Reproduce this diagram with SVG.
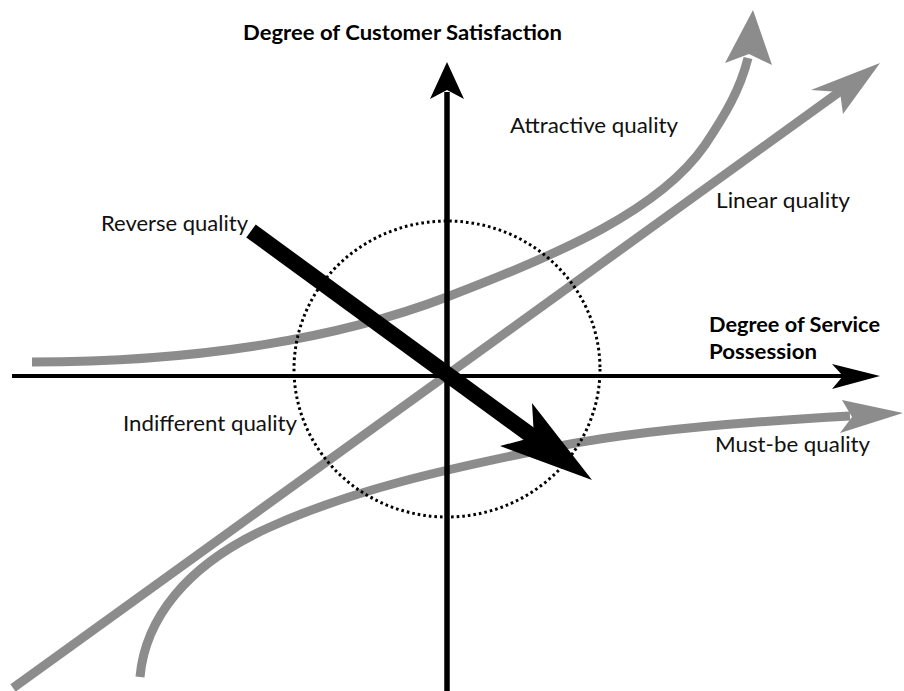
<svg xmlns="http://www.w3.org/2000/svg" width="904" height="691" viewBox="0 0 904 691">
  <style>
    .curve { fill: none; stroke: #8c8c8c; stroke-width: 9; stroke-linecap: butt; }
    .head-gray { fill: #8c8c8c; }
    .axis { fill: none; stroke: #000; }
    .head-black { fill: #000; }
    .label { font-family: Lato, "Open Sans", "Liberation Sans", sans-serif; font-size: 20.5px; fill: #111; }
    .title { font-family: Lato, "Open Sans", "Liberation Sans", sans-serif; font-size: 21px; font-weight: bold; fill: #000; }
  </style>
  <rect width="904" height="691" fill="#fff"/>

  <g id="connectors">
    <!-- Kano quality curves (gray) -->
    <g id="curve-linear">
      <path class="curve" d="M13,688 L842,90"/>
      <polygon class="head-gray" points="880,63 843,114 840,92 811,90"/>
    </g>
    <g id="curve-attractive">
      <path class="curve" d="M32,362 C200,362 340,338 447,297 C560,254 660,210 705,145 C725,115 740,90 748,58"/>
      <polygon class="head-gray" points="753,10 772,65 749,54 725,63"/>
    </g>
    <g id="curve-must-be">
      <path class="curve" d="M140,677 C145,620 185,565 270,527 C350,491 440,470 560,446 C640,430 760,421 850,416"/>
      <polygon class="head-gray" points="903,413 840,433 852,417 842,400"/>
    </g>

    <!-- Axes -->
    <g id="axis-y">
      <line class="axis" x1="447" y1="691" x2="447" y2="92" stroke-width="5.5"/>
      <polygon class="head-black" points="447,62 464,99 447,90 430,99"/>
    </g>
    <g id="axis-x">
      <line class="axis" x1="12" y1="376" x2="845" y2="376" stroke-width="4"/>
      <polygon class="head-black" points="880,376 832,389 843,376 832,364"/>
    </g>

    <!-- Indifference zone -->
    <ellipse id="indifference-zone" cx="447" cy="369" rx="153" ry="148" fill="none" stroke="#000" stroke-width="3" stroke-dasharray="2.6 3"/>

    <!-- Reverse quality arrow -->
    <g id="arrow-reverse">
      <line x1="251" y1="231" x2="540" y2="442" stroke="#000" stroke-width="16"/>
      <polygon class="head-black" points="592,480 500,446 534,437 532,403"/>
    </g>
  </g>

  <g id="node-y-title"><text class="title" x="243" y="40" textLength="319" lengthAdjust="spacingAndGlyphs">Degree of Customer Satisfaction</text></g>
  <g id="node-x-title">
    <text class="title" x="709" y="332" textLength="171" lengthAdjust="spacingAndGlyphs">Degree of Service</text>
    <text class="title" x="709" y="359" textLength="108" lengthAdjust="spacingAndGlyphs">Possession</text>
  </g>
  <g id="node-attractive"><text class="label" x="510" y="133" textLength="168" lengthAdjust="spacingAndGlyphs">Attractive quality</text></g>
  <g id="node-linear"><text class="label" x="716" y="208" textLength="134" lengthAdjust="spacingAndGlyphs">Linear quality</text></g>
  <g id="node-reverse"><text class="label" x="101" y="231" textLength="147" lengthAdjust="spacingAndGlyphs">Reverse quality</text></g>
  <g id="node-indifferent"><text class="label" x="123" y="431" textLength="174" lengthAdjust="spacingAndGlyphs">Indifferent quality</text></g>
  <g id="node-must-be"><text class="label" x="715" y="452" textLength="155" lengthAdjust="spacingAndGlyphs">Must-be quality</text></g>
</svg>
